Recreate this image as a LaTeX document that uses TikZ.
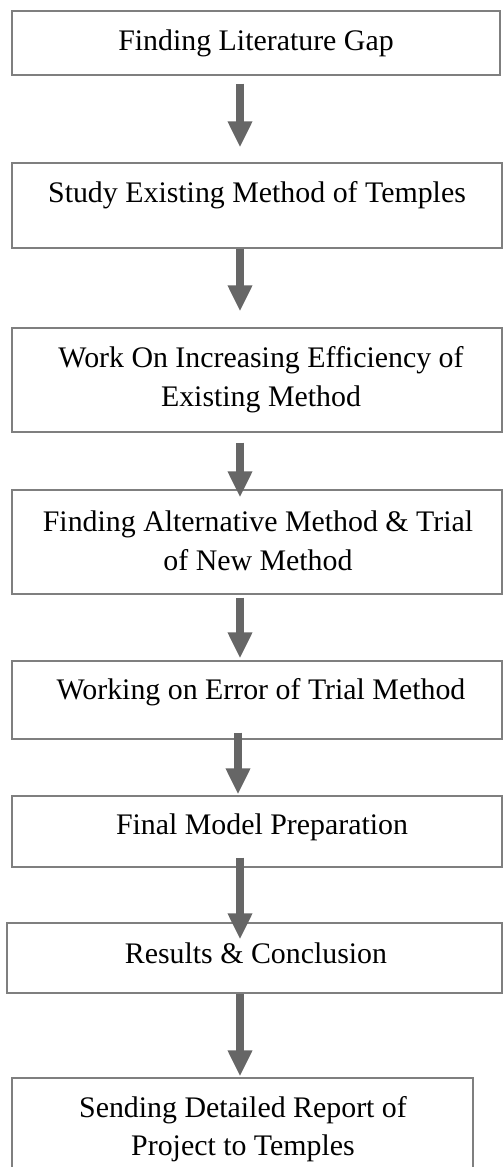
\documentclass[tikz,border=0pt]{standalone}
\usepackage{fontspec}
\setmainfont{Liberation Serif}
\usetikzlibrary{arrows.meta}
\definecolor{boxgray}{HTML}{7F7F7F}
\definecolor{arrowgray}{HTML}{666666}
\tikzset{
	stepbox/.style = {draw=boxgray, line width=0.75pt, inner sep=0pt},
	steptext/.style = {align=center, inner sep=0pt, font=\fontsize{17}{22}\selectfont},
	flow/.style = {draw=arrowgray, line width=0.16cm, -{Triangle[width=0.46cm, length=0.52cm, fill=arrowgray]}}
}
\begin{document}
\begin{tikzpicture}[x=0.02cm, y=-0.02cm]
	\useasboundingbox (0,0) rectangle (503,1167);
	% the boxes
	\node[stepbox, minimum width=9.76cm, minimum height=1.28cm] (b1) at (256,43) {};
	\node[stepbox, minimum width=9.80cm, minimum height=1.70cm] (b2) at (257,205.5) {};
	\node[stepbox, minimum width=9.80cm, minimum height=2.08cm] (b3) at (257,380) {};
	\node[stepbox, minimum width=9.80cm, minimum height=2.08cm] (b4) at (257,542) {};
	\node[stepbox, minimum width=9.80cm, minimum height=1.56cm] (b5) at (257,700) {};
	\node[stepbox, minimum width=9.80cm, minimum height=1.42cm] (b6) at (257,831.5) {};
	\node[stepbox, minimum width=9.90cm, minimum height=1.40cm] (b7) at (254.5,958) {};
	\node[stepbox, minimum width=9.22cm, minimum height=2.04cm] (b8) at (242.5,1129) {};
	% the texts, sitting a little high in some boxes
	\node[steptext] (t1) at (256,43) {Finding Literature Gap};
	\node[steptext] (t2) at (257,195) {Study Existing Method of Temples};
	\node[steptext] (t3) at (261,380) {Work On Increasing Efficiency of\\ Existing Method};
	\node[steptext] (t4) at (258,541) {Finding Alternative Method \& Trial\\ of New Method};
	\node[steptext] (t5) at (261,692) {Working on Error of Trial Method};
	\node[steptext] (t6) at (262,827) {Final Model Preparation};
	\node[steptext] (t7) at (256,953) {Results \& Conclusion};
	\node[steptext] (t8) at (243,1129) {Sending Detailed Report of\\ Project to Temples};
	% arrows
	\coordinate (axis) at (240,0);
	\draw[flow] ([yshift=-0.16cm]b1.south -| axis) -- ([yshift=0.30cm]b2.north -| axis);
	\draw[flow] (b2.south -| axis) -- ([yshift=0.32cm]b3.north -| axis);
	\draw[flow] ([yshift=-0.20cm]b3.south -| axis) -- ([yshift=-0.16cm]b4.north -| axis);
	\draw[flow] ([yshift=-0.06cm]b4.south -| axis) -- ([yshift=0.04cm]b5.north -| axis);
	\draw[flow] ([xshift=-0.04cm, yshift=0.14cm]b5.south -| axis) -- ([xshift=-0.04cm, yshift=0.02cm]b6.north -| axis);
	\draw[flow] ([yshift=0.20cm]b6.south -| axis) -- ([yshift=-0.34cm]b7.north -| axis);
	\draw[flow] (b7.south -| axis) -- ([yshift=0.02cm]b8.north -| axis);
\end{tikzpicture}
\end{document}
